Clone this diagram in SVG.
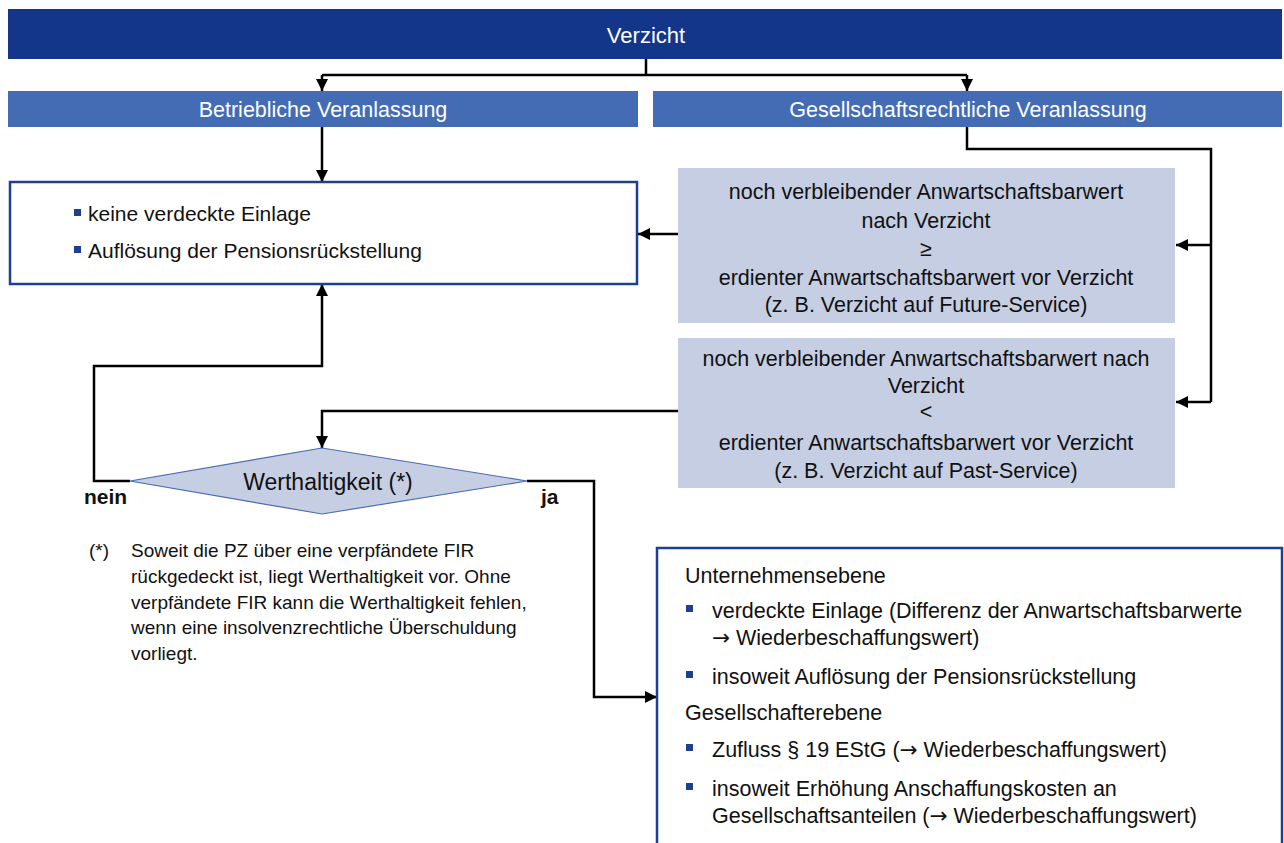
<svg xmlns="http://www.w3.org/2000/svg" width="1284" height="843" viewBox="0 0 1284 843">
<defs>
<style>
text{font-family:"Liberation Sans",Arial,sans-serif;fill:#111;}
.w{fill:#fff;}
.c{text-anchor:middle;}
.tb{font-size:21.5px;}
.tm{font-size:21px;}
.tr{font-size:21.5px;}
.tf{font-size:19px;}
.ar{font-family:"DejaVu Sans",sans-serif;}
.conn{fill:none;stroke:#000;stroke-width:2.5;}
.lb{fill:#C5CEE3;}
.bul{fill:#1F3F93;}
</style>
<marker id="ah" markerUnits="userSpaceOnUse" markerWidth="12" markerHeight="12" viewBox="0 0 12 12" refX="12" refY="6" orient="auto">
<path d="M0,0 L12,6 L0,12 z" fill="#000"/>
</marker>
</defs>
<rect width="1284" height="843" fill="#fff"/>

<g id="connectors">
<polyline class="conn" points="646,59 646,75"/>
<polyline class="conn" points="322,75 967,75"/>
<polyline class="conn" points="322,75 322,91" marker-end="url(#ah)"/>
<polyline class="conn" points="967,75 967,91" marker-end="url(#ah)"/>
<polyline class="conn" points="322,127 322,182" marker-end="url(#ah)"/>
<polyline class="conn" points="967,127 967,149 1211,149 1211,402"/>
<polyline class="conn" points="1211,245 1176,245" marker-end="url(#ah)"/>
<polyline class="conn" points="1211,402 1176,402" marker-end="url(#ah)"/>
<polyline class="conn" points="678,234 638,234" marker-end="url(#ah)"/>
<polyline class="conn" points="678,411 322,411 322,448" marker-end="url(#ah)"/>
<polyline class="conn" points="130,481 94,481 94,366 322,366 322,284" marker-end="url(#ah)"/>
<polyline class="conn" points="527,481 594,481 594,697 657,697" marker-end="url(#ah)"/>
</g>

<g id="verzicht">
<rect x="8" y="9" width="1274" height="50" fill="#13358A"/>
<text class="w c" x="646" y="43" font-size="22">Verzicht</text>
</g>

<g id="betrieblich">
<rect x="8" y="91" width="630" height="36" fill="#436CB4"/>
<text class="w c tb" x="323" y="117">Betriebliche Veranlassung</text>
</g>

<g id="gesellschaftsrechtlich">
<rect x="653" y="91" width="629" height="36" fill="#436CB4"/>
<text class="w c tb" x="968" y="117">Gesellschaftsrechtliche Veranlassung</text>
</g>

<g id="ergebnis-betrieblich">
<rect x="10" y="182" width="627" height="102" fill="#fff" stroke="#1F3F93" stroke-width="2.5"/>
<rect class="bul" x="74" y="209" width="7" height="7"/>
<text class="tm" x="88" y="221">keine verdeckte Einlage</text>
<rect class="bul" x="74" y="246" width="7" height="7"/>
<text class="tm" x="88" y="258">Auflösung der Pensionsrückstellung</text>
</g>

<g id="future-service">
<rect class="lb" x="678" y="168" width="497" height="155"/>
<text class="c tr" x="926" y="199">noch verbleibender Anwartschaftsbarwert</text>
<text class="c tr" x="926" y="228">nach Verzicht</text>
<text class="c tr" x="926" y="256">≥</text>
<text class="c tr" x="926" y="285">erdienter Anwartschaftsbarwert vor Verzicht</text>
<text class="c tr" x="926" y="312">(z. B. Verzicht auf Future-Service)</text>
</g>

<g id="past-service">
<rect class="lb" x="678" y="338" width="497" height="150"/>
<text class="c tr" x="926" y="366">noch verbleibender Anwartschaftsbarwert nach</text>
<text class="c tr" x="926" y="393">Verzicht</text>
<text class="c tr" x="926" y="419">&lt;</text>
<text class="c tr" x="926" y="450">erdienter Anwartschaftsbarwert vor Verzicht</text>
<text class="c tr" x="926" y="478">(z. B. Verzicht auf Past-Service)</text>
</g>

<g id="werthaltigkeit">
<polygon points="130,481 322,448 527,481 322,514" fill="#C5CEE3" stroke="#4A6BB5" stroke-width="1.2"/>
<text class="c" x="328" y="490" font-size="23">Werthaltigkeit (*)</text>
<text x="84" y="504" font-size="21" font-weight="bold" style="font-weight:600">nein</text>
<text x="541" y="504" font-size="21" style="font-weight:600">ja</text>
</g>

<g id="fussnote">
<text class="tf" x="89" y="557">(*)</text>
<text class="tf" x="131" y="557">Soweit die PZ über eine verpfändete FIR</text>
<text class="tf" x="131" y="583">rückgedeckt ist, liegt Werthaltigkeit vor. Ohne</text>
<text class="tf" x="131" y="609">verpfändete FIR kann die Werthaltigkeit fehlen,</text>
<text class="tf" x="131" y="634">wenn eine insolvenzrechtliche Überschuldung</text>
<text class="tf" x="131" y="660">vorliegt.</text>
</g>

<g id="ergebnis-verdeckt">
<rect x="657" y="548" width="625" height="310" fill="#fff" stroke="#1F3F93" stroke-width="2.5"/>
<text class="tr" x="685" y="583">Unternehmensebene</text>
<rect class="bul" x="686" y="605" width="7" height="7"/>
<text class="tr" x="712" y="618">verdeckte Einlage (Differenz der Anwartschaftsbarwerte</text>
<text class="tr" x="712" y="645"><tspan class="ar">→</tspan> Wiederbeschaffungswert)</text>
<rect class="bul" x="686" y="671" width="7" height="7"/>
<text class="tr" x="712" y="684">insoweit Auflösung der  Pensionsrückstellung</text>
<text class="tr" x="685" y="720">Gesellschafterebene</text>
<rect class="bul" x="686" y="744" width="7" height="7"/>
<text class="tr" x="712" y="757">Zufluss § 19 EStG (<tspan class="ar">→</tspan> Wiederbeschaffungswert)</text>
<rect class="bul" x="686" y="783" width="7" height="7"/>
<text class="tr" x="712" y="796">insoweit Erhöhung Anschaffungskosten an</text>
<text class="tr" x="712" y="823">Gesellschaftsanteilen (<tspan class="ar">→</tspan> Wiederbeschaffungswert)</text>
</g>
</svg>
